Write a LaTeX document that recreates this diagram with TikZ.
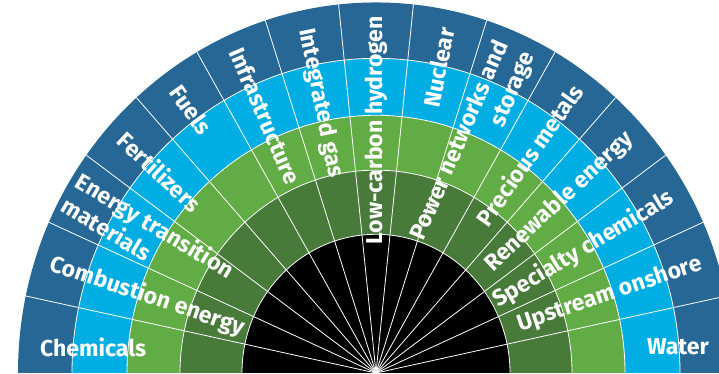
\documentclass[tikz,border=0pt]{standalone}
\usepackage{fontspec}
\setmainfont{Fira Sans}
\definecolor{ringblue}{RGB}{38,103,150}
\definecolor{ringcyan}{RGB}{0,174,228}
\definecolor{ringgreen}{RGB}{98,172,69}
\definecolor{ringdark}{RGB}{72,122,58}
\tikzset{
  sep/.style={white, line width=0.8pt},
  lbl/.style={text=white, font=\fontsize{23}{28}\selectfont\bfseries, inner sep=0pt},
  lblL/.style={lbl, anchor=west, align=left, rotate=#1},
  lblR/.style={lbl, anchor=east, align=right, rotate=#1},
}
\begin{document}
\begin{tikzpicture}[x=1pt,y=1pt]
	\useasboundingbox (0,0) rectangle (719,373);
	\clip (0,0) rectangle (719,373);
	\begin{scope}[shift={(376,0)}, yscale=1.035]
	% rings, outside in
	\fill [ringblue]  (0,0) circle [radius=358];
	\fill [ringcyan]  (0,0) circle [radius=304];
	\fill [ringgreen] (0,0) circle [radius=249];
	\fill [ringdark]  (0,0) circle [radius=196];
	\fill [black]     (0,0) circle [radius=134];
	\foreach \r in {134,196,249,304} \draw [sep] (0,0) circle [radius=\r];
	\foreach \a in {0,12,...,180} \draw [sep] (0,0) -- (\a:358);
	% right half
	\node [lblR=18.6] at (18:342) (upstream)  {Upstream onshore};
	\node [lblR=30.9] at (30:342) (specialty) {Specialty chemicals};
	\node [lblR=43]   at (42:342) (renewable) {Renewable energy};
	\node [lblR=54.9] at (54:342) (precious)  {Precious metals};
	\node [lblR=66.7] at (66:344) (power)     {Power networks and\\storage};
	\node [lblR=78.4] at (78:341) (nuclear)   {Nuclear};
	\node [lblR=90]   at (90:345) (hydrogen)  {Low-carbon hydrogen};
	% left half
	\node [lblL=-78.4] at (102:340) (gas)        {Integrated gas};
	\node [lblL=-66.7] at (114:343) (infra)      {Infrastructure};
	\node [lblL=-54.9] at (126:341) (fuels)      {Fuels};
	\node [lblL=-43]   at (138:342) (fert)       {Fertilizers};
	\node [lblL=-30.9] at (150:352) (transition) {Energy transition\\materials};
	\node [lblL=-18.6] at (162:342) (combustion) {Combustion energy};
	\end{scope}
	\node [lbl, anchor=west] at (40,26)  (chem)  {Chemicals};
	\node [lbl, anchor=east] at (709,26) (water) {Water};
\end{tikzpicture}
\end{document}
